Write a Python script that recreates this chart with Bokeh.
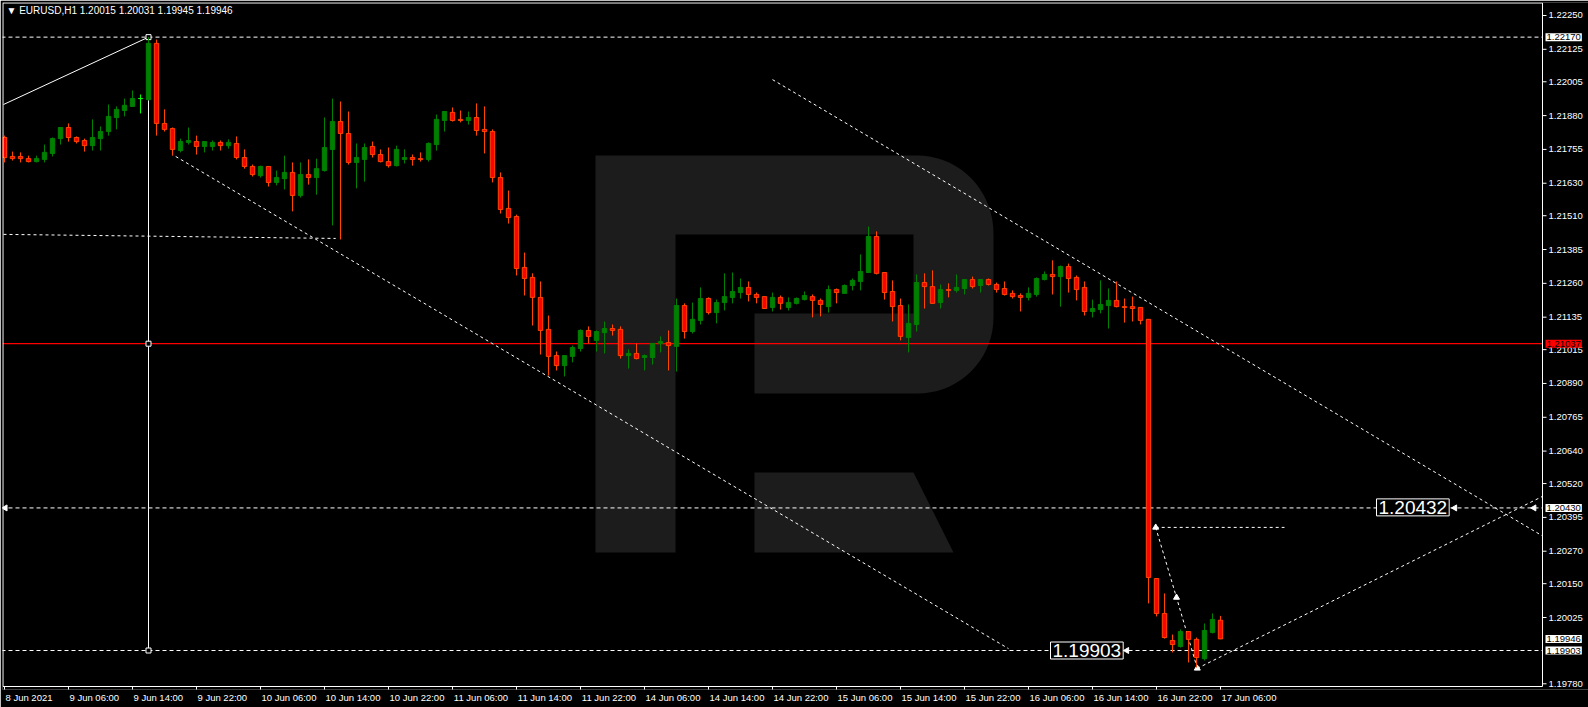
import math
from bokeh.plotting import figure
from bokeh.models import (Range1d, FixedTicker, CustomJSTickFormatter, Label, ColumnDataSource)
from bokeh.core.properties import value
from bokeh.embed import file_html
from bokeh.resources import INLINE

# ---------------- data ----------------
symbol = "EURUSD,H1"

opens = [1.21799, 1.21729, 1.21729, 1.21721, 1.21710, 1.21718, 1.21740, 1.21795, 1.21836, 1.21799,
         1.21788, 1.21769, 1.21795, 1.21821, 1.21873, 1.21899, 1.21914, 1.21943, 1.21939, 1.22147,
         1.21851, 1.21832, 1.21751, 1.21781, 1.21784, 1.21766, 1.21766, 1.21781, 1.21769, 1.21777,
         1.21725, 1.21692, 1.21658, 1.21692, 1.21633, 1.21647, 1.21670, 1.21585, 1.21662, 1.21651,
         1.21677, 1.21755, 1.21858, 1.21814, 1.21707, 1.21718, 1.21766, 1.21736, 1.21710, 1.21695,
         1.21718, 1.21725, 1.21721, 1.21718, 1.21773, 1.21862, 1.21892, 1.21866, 1.21862, 1.21873,
         1.21829, 1.21821, 1.21651, 1.21537, 1.21507, 1.21319, 1.21282, 1.21208, 1.21090, 1.20993,
         1.20956, 1.20990, 1.21019, 1.21086, 1.21049, 1.21078, 1.21093, 1.21090, 1.20993, 1.21001,
         1.20986, 1.20986, 1.21038, 1.21041, 1.21027, 1.21178, 1.21082, 1.21123, 1.21204, 1.21152,
         1.21189, 1.21208, 1.21226, 1.21245, 1.21219, 1.21211, 1.21171, 1.21208, 1.21171, 1.21186,
         1.21200, 1.21211, 1.21197, 1.21174, 1.21237, 1.21223, 1.21252, 1.21267, 1.21300, 1.21433,
         1.21300, 1.21230, 1.21178, 1.21060, 1.21108, 1.21263, 1.21248, 1.21189, 1.21237, 1.21234,
         1.21241, 1.21274, 1.21252, 1.21274, 1.21256, 1.21241, 1.21223, 1.21215, 1.21208, 1.21219,
         1.21274, 1.21293, 1.21285, 1.21322, 1.21282, 1.21245, 1.21156, 1.21163, 1.21178, 1.21197,
         1.21174, 1.21174, 1.21171, 1.21127, 1.20169, 1.20040, 1.19940, 1.19918, 1.19973, 1.19944,
         1.19873, 1.19970, 1.20015]

highs = [1.21806, 1.21747, 1.21744, 1.21732, 1.21732, 1.21773, 1.21799, 1.21836, 1.21851, 1.21803,
         1.21795, 1.21866, 1.21840, 1.21921, 1.21914, 1.21943, 1.21973, 1.21958, 1.22170, 1.22161,
         1.21903, 1.21836, 1.21795, 1.21836, 1.21806, 1.21784, 1.21788, 1.21788, 1.21792, 1.21803,
         1.21755, 1.21699, 1.21695, 1.21692, 1.21677, 1.21732, 1.21707, 1.21707, 1.21718, 1.21721,
         1.21873, 1.21943, 1.21932, 1.21895, 1.21777, 1.21777, 1.21784, 1.21755, 1.21762, 1.21769,
         1.21755, 1.21736, 1.21744, 1.21781, 1.21884, 1.21895, 1.21910, 1.21899, 1.21895, 1.21925,
         1.21914, 1.21829, 1.21670, 1.21603, 1.21514, 1.21374, 1.21297, 1.21267, 1.21141, 1.21008,
         1.20993, 1.21030, 1.21090, 1.21101, 1.21086, 1.21119, 1.21108, 1.21101, 1.21016, 1.21038,
         1.20997, 1.21038, 1.21064, 1.21086, 1.21204, 1.21186, 1.21189, 1.21245, 1.21208, 1.21200,
         1.21297, 1.21300, 1.21278, 1.21267, 1.21226, 1.21211, 1.21226, 1.21215, 1.21208, 1.21208,
         1.21230, 1.21219, 1.21204, 1.21252, 1.21241, 1.21256, 1.21278, 1.21367, 1.21470, 1.21452,
         1.21300, 1.21271, 1.21204, 1.21182, 1.21293, 1.21297, 1.21308, 1.21256, 1.21260, 1.21293,
         1.21274, 1.21285, 1.21274, 1.21278, 1.21263, 1.21267, 1.21234, 1.21223, 1.21245, 1.21282,
         1.21304, 1.21345, 1.21326, 1.21333, 1.21289, 1.21267, 1.21200, 1.21271, 1.21241, 1.21267,
         1.21204, 1.21211, 1.21171, 1.21127, 1.20169, 1.20114, 1.19962, 1.19981, 1.19973, 1.19951,
         1.20003, 1.20040, 1.20031]

lows = [1.21707, 1.21714, 1.21707, 1.21707, 1.21707, 1.21707, 1.21729, 1.21773, 1.21784, 1.21777,
        1.21747, 1.21751, 1.21751, 1.21806, 1.21829, 1.21877, 1.21914, 1.21888, 1.21936, 1.21806,
        1.21821, 1.21732, 1.21744, 1.21773, 1.21736, 1.21744, 1.21751, 1.21751, 1.21758, 1.21718,
        1.21684, 1.21655, 1.21651, 1.21618, 1.21622, 1.21607, 1.21526, 1.21577, 1.21625, 1.21588,
        1.21673, 1.21474, 1.21422, 1.21699, 1.21611, 1.21636, 1.21725, 1.21707, 1.21688, 1.21692,
        1.21703, 1.21695, 1.21710, 1.21710, 1.21751, 1.21821, 1.21858, 1.21855, 1.21847, 1.21806,
        1.21740, 1.21633, 1.21518, 1.21481, 1.21289, 1.21215, 1.21104, 1.20997, 1.20919, 1.20938,
        1.20916, 1.20968, 1.21008, 1.21038, 1.21008, 1.21001, 1.21067, 1.20982, 1.20945, 1.20979,
        1.20938, 1.20960, 1.21005, 1.20938, 1.20934, 1.21056, 1.21075, 1.21108, 1.21145, 1.21112,
        1.21160, 1.21186, 1.21204, 1.21193, 1.21186, 1.21167, 1.21156, 1.21163, 1.21160, 1.21182,
        1.21197, 1.21134, 1.21138, 1.21152, 1.21186, 1.21223, 1.21234, 1.21234, 1.21300, 1.21293,
        1.21200, 1.21119, 1.21049, 1.21005, 1.21082, 1.21167, 1.21186, 1.21167, 1.21208, 1.21226,
        1.21219, 1.21241, 1.21226, 1.21252, 1.21226, 1.21215, 1.21204, 1.21156, 1.21197, 1.21211,
        1.21271, 1.21219, 1.21174, 1.21226, 1.21197, 1.21141, 1.21134, 1.21149, 1.21093, 1.21171,
        1.21115, 1.21119, 1.21108, 1.20077, 1.20029, 1.19947, 1.19896, 1.19914, 1.19859, 1.19840,
        1.19866, 1.19966, 1.19945]

closes = [1.21725, 1.21721, 1.21721, 1.21710, 1.21721, 1.21744, 1.21795, 1.21836, 1.21799, 1.21784,
          1.21769, 1.21799, 1.21821, 1.21877, 1.21903, 1.21918, 1.21943, 1.21943, 1.22147, 1.21851,
          1.21829, 1.21755, 1.21784, 1.21788, 1.21766, 1.21784, 1.21781, 1.21769, 1.21781, 1.21725,
          1.21692, 1.21662, 1.21692, 1.21633, 1.21651, 1.21670, 1.21585, 1.21662, 1.21651, 1.21684,
          1.21762, 1.21858, 1.21814, 1.21707, 1.21725, 1.21762, 1.21736, 1.21710, 1.21695, 1.21755,
          1.21725, 1.21718, 1.21718, 1.21777, 1.21866, 1.21895, 1.21862, 1.21862, 1.21873, 1.21825,
          1.21821, 1.21651, 1.21533, 1.21503, 1.21315, 1.21278, 1.21208, 1.21086, 1.20990, 1.20956,
          1.20993, 1.21023, 1.21086, 1.21064, 1.21082, 1.21093, 1.21086, 1.20993, 1.21001, 1.20982,
          1.20993, 1.21038, 1.21045, 1.21030, 1.21178, 1.21082, 1.21127, 1.21204, 1.21152, 1.21189,
          1.21211, 1.21230, 1.21245, 1.21219, 1.21208, 1.21167, 1.21208, 1.21186, 1.21189, 1.21204,
          1.21215, 1.21197, 1.21182, 1.21237, 1.21226, 1.21252, 1.21271, 1.21304, 1.21433, 1.21297,
          1.21226, 1.21174, 1.21064, 1.21112, 1.21263, 1.21248, 1.21186, 1.21237, 1.21234, 1.21245,
          1.21274, 1.21248, 1.21274, 1.21256, 1.21237, 1.21219, 1.21211, 1.21208, 1.21223, 1.21278,
          1.21293, 1.21285, 1.21322, 1.21278, 1.21237, 1.21156, 1.21167, 1.21182, 1.21197, 1.21174,
          1.21171, 1.21167, 1.21123, 1.20173, 1.20040, 1.19951, 1.19925, 1.19973, 1.19944, 1.19877,
          1.19977, 1.20018, 1.19946]

time_label_bars = [0, 8, 16, 24, 32, 40, 48, 56, 64, 72, 80, 88, 96, 104, 112, 120, 128, 136, 144, 152]
time_labels = ["8 Jun 2021", "9 Jun 06:00", "9 Jun 14:00", "9 Jun 22:00", "10 Jun 06:00",
               "10 Jun 14:00", "10 Jun 22:00", "11 Jun 06:00", "11 Jun 14:00", "11 Jun 22:00",
               "14 Jun 06:00", "14 Jun 14:00", "14 Jun 22:00", "15 Jun 06:00", "15 Jun 14:00",
               "15 Jun 22:00", "16 Jun 06:00", "16 Jun 14:00", "16 Jun 22:00", "17 Jun 06:00"]

price_ticks = [1.22250, 1.22125, 1.22005, 1.21880, 1.21755, 1.21630, 1.21510, 1.21385, 1.21260,
               1.21135, 1.21015, 1.20890, 1.20765, 1.20640, 1.20520, 1.20395, 1.20270, 1.20150,
               1.20025, 1.19780]

# horizontal levels
level_swing_high = 1.22170
level_red = 1.21037
level_target = 1.20430
level_low = 1.19903
target_text = 1.20432
low_text = 1.19903

# analyst drawings (bar index, price)
swing_bar = 18
swing_line_x = [-0.125, 18.0]
swing_line_y = [1.21921, 1.22170]
flat_line_x = [-0.125, 41.4]
flat_line_y = [1.21441, 1.21426]
chan_top_x = [96.0, 124.25]
chan_top_y = [1.22013, 1.21518]
chan_bot_x = [21.4, 125.5]
chan_bot_y = [1.21729, 1.19910]
up_line_x = [149.1, 192.0]
up_line_y = [1.19837, 1.20469]
wave_x = [143.9, 146.5, 149.1]
wave_y = [1.20358, 1.20099, 1.19837]
wave_flat_x = [143.9, 160.0]
wave_flat_y = [1.20358, 1.20358]
arrow_x = [0.1, 181.3, 191.2, 140.3]
arrow_y = [1.20430, 1.20430, 1.20430, 1.19903]
target_label_bar = 171.5
low_label_bar = 130.75

# ---------------- layout ----------------
W, H = 1588, 707
BORDER_L, BORDER_T, BORDER_B = 2, 2, 18
FRAME_W, FRAME_H = W - BORDER_L, H - BORDER_T - BORDER_B
BAR_PX = 8.0
PX_PER_PRICE = 27057.0
X_START = -0.25
X_END = X_START + FRAME_W / BAR_PX
Y_TOP = 1.22298
Y_BOT = Y_TOP - FRAME_H / PX_PER_PRICE
CHART_RIGHT_PX, CHART_BOTTOM_PX = 1542, 686     # chart border inside the canvas
FONT = "Liberation Sans"
AX_FS = "9.5px"

def page_to_data(xp, yp):
    return X_START + (xp - BORDER_L) / BAR_PX, Y_TOP - (yp - BORDER_T) / PX_PER_PRICE

X_CHART_R, Y_CHART_B = page_to_data(CHART_RIGHT_PX, CHART_BOTTOM_PX)
X_CHART_L, Y_CHART_T = page_to_data(BORDER_L + 0.5, BORDER_T + 0.5)

p = figure(width=W, height=H, x_range=Range1d(X_START, X_END), y_range=Range1d(Y_BOT, Y_TOP),
           output_backend="svg", toolbar_location=None, y_axis_location=None,
           min_border_left=BORDER_L, min_border_top=BORDER_T, min_border_right=0,
           min_border_bottom=BORDER_B, background_fill_color="black",
           border_fill_color="black", outline_line_color=None)
p.grid.visible = False

# ---- watermark logo (screen geometry converted to data space) ----
def arc(cx, cy, rx, ry, a0, a1, n=18):
    pts = []
    for k in range(n + 1):
        a = math.radians(a0 + (a1 - a0) * k / n)
        pts.append((cx + rx * math.cos(a), cy + ry * math.sin(a)))
    return pts

bowl = ([(595, 155)] + arc(917, 233, 76, 78, -90, 0) + arc(917, 317, 76, 76, 0, 90) +
        [(754, 393), (754, 313), (913, 313), (913, 234), (675, 234), (675, 552), (595, 552)])
leg = [(754, 472), (913, 472), (953, 552), (754, 552)]
lxs, lys = [], []
for poly in (bowl, leg):
    pts = [page_to_data(a, b) for a, b in poly]
    lxs.append([q[0] for q in pts])
    lys.append([q[1] for q in pts])
p.patches(xs=lxs, ys=lys, fill_color="#1c1c1c", line_color=None)

# ---- horizontal levels ----
hl = [level_swing_high, level_target, level_low]
p.segment(x0=[X_START - 1] * 3, y0=hl, x1=[X_CHART_R] * 3, y1=hl,
          line_color="white", line_dash="4 3", line_width=1)
p.segment(x0=[X_START - 1], y0=[level_red], x1=[X_CHART_R], y1=[level_red],
          line_color="#ff0000", line_width=1.2)

# ---- trend lines ----
def ray(xs, ys, x_end):
    k = (ys[1] - ys[0]) / (xs[1] - xs[0])
    return [xs[0], x_end], [ys[0], ys[0] + k * (x_end - xs[0])]

p.line(swing_line_x, swing_line_y, line_color="white", line_width=1)
p.line([swing_bar, swing_bar], [level_swing_high, level_low], line_color="white", line_width=1)
for xs, ys in [(flat_line_x, flat_line_y), ray(chan_top_x, chan_top_y, X_CHART_R),
               (chan_bot_x, chan_bot_y), ray(up_line_x, up_line_y, X_CHART_R),
               (wave_x, wave_y), (wave_flat_x, wave_flat_y)]:
    p.line(xs, ys, line_color="white", line_dash="3 3", line_width=1)

p.scatter(x=[swing_bar] * 3, y=[level_swing_high, level_red, level_low], marker="square",
          size=5, fill_color="black", line_color="white")
p.scatter(x=wave_x, y=wave_y, marker="triangle", size=6, color="white")
p.scatter(x=arrow_x, y=arrow_y, marker="triangle", angle=math.pi / 2, size=6, color="white")

# ---- candles ----
UP, DOWN, DOWN_LINE, DOJI = "#008000", "#ff0000", "#ff4500", "#00ff00"
fill, line = [], []
for o, c in zip(opens, closes):
    if c > o:
        fill.append(UP); line.append(UP)
    elif c < o:
        fill.append(DOWN); line.append(DOWN_LINE)
    else:
        fill.append(DOJI); line.append(DOJI)
src = ColumnDataSource(dict(
    x=list(range(len(opens))), h=highs, l=lows,
    top=[max(o, c) for o, c in zip(opens, closes)],
    bottom=[min(o, c) for o, c in zip(opens, closes)],
    fill=fill, line=line))
p.segment(x0="x", y0="h", x1="x", y1="l", line_color="line", line_width=1, source=src)
p.vbar(x="x", width=0.55, top="top", bottom="bottom", fill_color="fill",
       line_color="line", line_width=1, source=src)

# ---- chart border (white rectangle) ----
p.segment(x0=[X_CHART_L, X_CHART_L, X_CHART_R, X_CHART_L],
          y0=[Y_CHART_T, Y_CHART_B, Y_CHART_T, Y_CHART_T],
          x1=[X_CHART_R, X_CHART_R, X_CHART_R, X_CHART_L],
          y1=[Y_CHART_T, Y_CHART_B, Y_CHART_B, Y_CHART_B],
          line_color="white", line_width=1)

# ---- price scale on the right of the chart border ----
TICK = 4 / BAR_PX
p.segment(x0=[X_CHART_R] * len(price_ticks), y0=price_ticks,
          x1=[X_CHART_R + TICK] * len(price_ticks), y1=price_ticks, line_color="white")
p.text(x=[X_CHART_R + 6 / BAR_PX] * len(price_ticks), y=price_ticks,
       text=[f"{v:.5f}" for v in price_ticks], text_color="white",
       text_font=value(FONT), text_font_size=AX_FS, text_baseline="middle", text_align="left")

# time-axis tick marks hanging below the chart border
p.segment(x0=time_label_bars, y0=[Y_CHART_B] * len(time_label_bars),
          x1=time_label_bars, y1=[Y_BOT - 1] * len(time_label_bars), line_color="white")

# price tags on the scale
for price, bg in [(level_swing_high, "white"), (level_red, "#ff0000"), (level_target, "white"),
                  (closes[-1], "white"), (level_low, "white")]:
    p.add_layout(Label(x=X_CHART_R + 3 / BAR_PX, y=price, text=f"{price:.5f}",
                       text_font=FONT, text_font_size=AX_FS, text_color="black",
                       text_baseline="middle", text_align="left",
                       background_fill_color=bg, padding=1))

# ---- time axis (labels left-aligned to their tick) ----
CHAR_EM = {" ": 0.278, ":": 0.278, "J": 0.5}
def text_w(s):
    return sum(CHAR_EM.get(ch, 0.556) for ch in s) * 9.5

label_pos = [b + (text_w(s) / 2 + 1) / BAR_PX for b, s in zip(time_label_bars, time_labels)]
xax = p.xaxis[0]
xax.ticker = FixedTicker(ticks=label_pos)
xax.formatter = CustomJSTickFormatter(args=dict(pos=label_pos, txt=time_labels), code="""
let best = 0, bd = Infinity;
for (let i = 0; i < pos.length; i++) { const d = Math.abs(pos[i] - tick); if (d < bd) { bd = d; best = i; } }
return txt[best];
""")
xax.major_tick_in = 0
xax.major_tick_out = 0
xax.minor_tick_in = 0
xax.minor_tick_out = 0
xax.major_label_standoff = 2
xax.axis_line_color = None
xax.major_label_text_color = "white"
xax.major_label_text_font = FONT
xax.major_label_text_font_size = AX_FS

# ---- big price texts ----
for bx, pr in [(target_label_bar, target_text), (low_label_bar, low_text)]:
    p.add_layout(Label(x=bx, y=pr, text=f"{pr:.5f}", text_font=FONT, text_font_size="19px",
                       text_color="white", text_baseline="middle", text_align="left",
                       background_fill_color="black", border_line_color="white", padding=2))

# ---- title ----
title_text = f"\u25BC {symbol}  {opens[-1]:.5f} {highs[-1]:.5f} {lows[-1]:.5f} {closes[-1]:.5f}"
tx, ty = page_to_data(6, 10)
p.add_layout(Label(x=tx, y=ty, text=title_text, text_font=FONT, text_font_size="10px",
                   text_color="white", text_baseline="middle", text_align="left"))

open("out.html", "w").write(file_html(p, INLINE, title="EURUSD H1"))
